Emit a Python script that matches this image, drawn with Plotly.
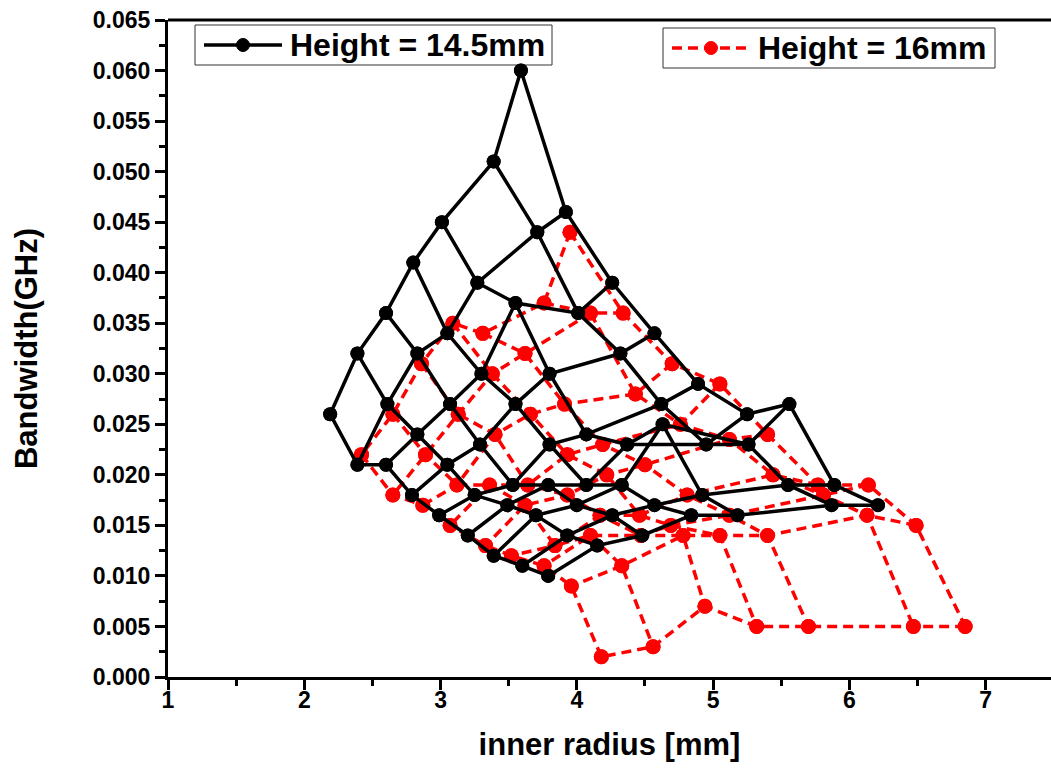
import plotly.graph_objects as go

# Bandwidth (GHz) versus inner radius (mm), swept on a 7 x 9 parameter grid.
# Each list entry is one row of the grid; columns connect entry c of every row.

# Height = 14.5 mm
h145_radius = [
    [3.59, 3.92, 4.26, 4.57, 4.89, 5.25, 5.56, 5.89, 6.21],
    [3.39, 3.71, 4.01, 4.32, 4.62, 4.95, 5.26, 5.55, 5.87],
    [3.01, 3.27, 3.55, 3.80, 4.07, 4.37, 4.63, 4.92, 5.18],
    [2.80, 3.05, 3.30, 3.55, 3.80, 4.07, 4.33, 4.57, 4.84],
    [2.60, 2.83, 3.07, 3.29, 3.53, 3.79, 4.00, 4.26, 4.48],
    [2.39, 2.61, 2.83, 3.05, 3.25, 3.49, 3.70, 3.93, 4.15],
    [2.19, 2.39, 2.60, 2.79, 2.99, 3.20, 3.39, 3.60, 3.79],
]
h145_bw = [
    [0.060, 0.046, 0.039, 0.034, 0.029, 0.026, 0.027, 0.019, 0.017],
    [0.051, 0.044, 0.036, 0.032, 0.027, 0.023, 0.023, 0.019, 0.017],
    [0.045, 0.039, 0.037, 0.030, 0.024, 0.023, 0.025, 0.018, 0.016],
    [0.041, 0.034, 0.030, 0.027, 0.023, 0.019, 0.019, 0.017, 0.016],
    [0.036, 0.032, 0.027, 0.023, 0.019, 0.019, 0.017, 0.016, 0.014],
    [0.032, 0.027, 0.024, 0.021, 0.018, 0.017, 0.016, 0.014, 0.013],
    [0.026, 0.021, 0.021, 0.018, 0.016, 0.014, 0.012, 0.011, 0.010],
]

# Height = 16 mm
h16_radius = [
    [3.95, 4.34, 4.70, 5.05, 5.40, 5.77, 6.14, 6.49, 6.85],
    [3.76, 4.10, 4.43, 4.76, 5.12, 5.44, 5.81, 6.13, 6.47],
    [3.31, 3.62, 3.91, 4.19, 4.50, 4.81, 5.12, 5.40, 5.70],
    [3.09, 3.38, 3.66, 3.93, 4.22, 4.46, 4.69, 5.05, 5.32],
    [2.86, 3.13, 3.40, 3.64, 3.93, 4.17, 4.47, 4.78, 4.94],
    [2.65, 2.89, 3.12, 3.36, 3.62, 3.84, 4.10, 4.33, 4.56],
    [2.42, 2.65, 2.87, 3.07, 3.33, 3.52, 3.76, 3.96, 4.18],
]
h16_bw = [
    [0.044, 0.036, 0.031, 0.029, 0.024, 0.019, 0.019, 0.015, 0.005],
    [0.037, 0.036, 0.028, 0.025, 0.0235, 0.020, 0.018, 0.016, 0.005],
    [0.034, 0.032, 0.027, 0.023, 0.021, 0.018, 0.016, 0.014, 0.005],
    [0.035, 0.030, 0.026, 0.022, 0.020, 0.016, 0.015, 0.014, 0.005],
    [0.031, 0.026, 0.024, 0.019, 0.018, 0.016, 0.014, 0.014, 0.007],
    [0.026, 0.022, 0.019, 0.019, 0.017, 0.013, 0.014, 0.011, 0.003],
    [0.022, 0.018, 0.017, 0.015, 0.013, 0.012, 0.011, 0.009, 0.002],
]

series = [
    # name, x grid, y grid, colour, dash, marker size
    ("Height = 16mm", h16_radius, h16_bw, "#ff0000", "10px,6px", 15),
    ("Height = 14.5mm", h145_radius, h145_bw, "#000000", "solid", 14),
]

FONT = "Liberation Sans, Arial, sans-serif"
W, H = 1051, 781
M_L, M_R, M_T, M_B = 168, 0, 20, 104
PW, PH = W - M_L - M_R, H - M_T - M_B


def px_x(px):
    """Horizontal page pixel -> paper fraction of the plotting area."""
    return (px - M_L) / PW


def px_y(py):
    """Vertical page pixel -> paper fraction of the plotting area."""
    return (H - M_B - py) / PH


def grid_traces(xs, ys, name, color, dash, msize):
    """Lines along every row and every column of a point grid."""
    n_rows, n_cols = len(xs), len(xs[0])
    paths = [(xs[r], ys[r]) for r in range(n_rows)]
    paths += [([xs[r][c] for r in range(n_rows)], [ys[r][c] for r in range(n_rows)])
              for c in range(n_cols)]
    return [go.Scatter(
        x=px, y=py, mode="lines+markers", name=name,
        line=dict(color=color, width=3.5, dash=dash),
        marker=dict(color=color, size=msize, symbol="circle"),
        legendgroup=name, showlegend=False,
    ) for px, py in paths]


fig = go.Figure()
for name, gx, gy, color, dash, msize in series:
    for t in grid_traces(gx, gy, name, color, dash, msize):
        fig.add_trace(t)

# Boxed legend entries: (box left, box top, box right, box bottom) in page pixels
legend_boxes = {
    "Height = 14.5mm": (195, 25, 552, 65),
    "Height = 16mm": (663, 28, 995, 68),
}
shapes = [dict(type="line", xref="paper", yref="paper", x0=0, x1=1, y0=1, y1=1,
               line=dict(color="black", width=3))]
annotations = []
for name, gx, gy, color, dash, msize in series:
    bx0, by0, bx1, by1 = legend_boxes[name]
    cy = (by0 + by1) / 2
    shapes.append(dict(type="rect", xref="paper", yref="paper", layer="below",
                       x0=px_x(bx0), x1=px_x(bx1), y0=px_y(by1), y1=px_y(by0),
                       fillcolor="white", line=dict(color="#333333", width=1)))
    shapes.append(dict(type="line", xref="paper", yref="paper",
                       x0=px_x(bx0 + 9), x1=px_x(bx0 + 87), y0=px_y(cy), y1=px_y(cy),
                       line=dict(color=color, width=3.5, dash=dash)))
    shapes.append(dict(type="circle", xref="paper", yref="paper",
                       xsizemode="pixel", ysizemode="pixel",
                       xanchor=px_x(bx0 + 48), yanchor=px_y(cy),
                       x0=-6.5, x1=6.5, y0=-6.5, y1=6.5,
                       fillcolor=color, line=dict(color=color, width=1)))
    annotations.append(dict(text=name, xref="paper", yref="paper",
                            x=px_x(bx0 + 93), y=px_y(cy), xanchor="left", yanchor="middle",
                            showarrow=False,
                            font=dict(family=FONT, size=32, color="black", weight="bold")))

fig.update_layout(
    width=W, height=H,
    margin=dict(l=M_L, r=M_R, t=M_T, b=M_B),
    paper_bgcolor="white", plot_bgcolor="white",
    font=dict(family=FONT, color="black"),
    showlegend=False,
    xaxis=dict(
        range=[1, 7.48], dtick=1, tick0=1, showgrid=False, zeroline=False,
        showline=True, linecolor="black", linewidth=3,
        ticks="outside", ticklen=10, tickwidth=3, tickcolor="black",
        minor=dict(dtick=0.5, ticks="outside", ticklen=6, tickwidth=3, tickcolor="black"),
        tickfont=dict(family=FONT, size=23, weight="bold"),
        ticklabelstandoff=-10,
        title=dict(text="inner radius [mm]", standoff=22,
                   font=dict(family=FONT, size=31, weight="bold")),
    ),
    yaxis=dict(
        range=[0, 0.065], dtick=0.005, tick0=0, tickformat=".3f",
        showgrid=False, zeroline=False,
        showline=True, linecolor="black", linewidth=3,
        ticks="outside", ticklen=10, tickwidth=3, tickcolor="black",
        minor=dict(dtick=0.0025, ticks="outside", ticklen=6, tickwidth=3, tickcolor="black"),
        tickfont=dict(family=FONT, size=23, weight="bold"),
        title=dict(text="Bandwidth(GHz)", standoff=46,
                   font=dict(family=FONT, size=31, weight="bold")),
    ),
    shapes=shapes,
    annotations=annotations,
)

fig.write_html("out.html")
